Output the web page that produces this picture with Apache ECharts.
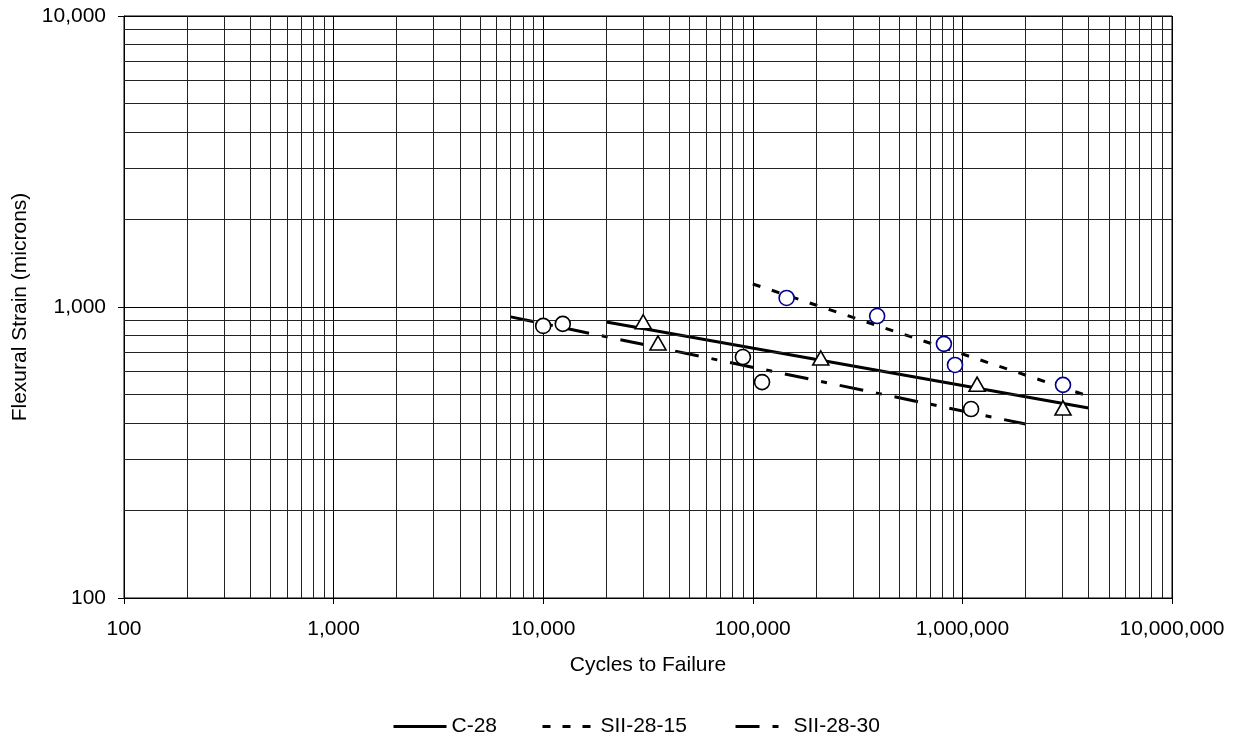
<!DOCTYPE html>
<html>
<head>
<meta charset="utf-8">
<title>Flexural Strain vs Cycles to Failure</title>
<script src="https://cdn.jsdelivr.net/npm/echarts@6/dist/echarts.min.js"></script>
<style>
  html, body { margin: 0; padding: 0; background: #fff; }
  #chart { width: 1239px; height: 740px; }
</style>
</head>
<body>
<div id="chart"></div>
<script>
// test results, [cycles to failure, strain]
const c28Points = [[30000, 890], [35300, 752], [211000, 668], [1175000, 543], [3020000, 450]];
const sii15Points = [[145000, 1074], [392000, 931], [816000, 747], [922000, 632], [3020000, 540]];
const sii30Points = [[10000, 861], [12400, 875], [89700, 673], [110700, 552], [1100000, 446]];

const c28Fit = [[20000, 888], [4000000, 450]];
const sii15Fit = [[100000, 1200], [3800000, 500]];
const sii30Fit = [[7000, 925], [2000000, 396]];

const seriesNames = ['C-28', 'SII-28-15', 'SII-28-30'];
const xDecades = [100, 1000, 10000, 100000, 1000000, 10000000];
const yDecades = [100, 1000, 10000];
const minorSteps = [2, 3, 4, 5, 6, 7, 8, 9];

const font = "'Liberation Sans', Arial, sans-serif";
const fmt = v => Math.round(v).toLocaleString('en-US');

// minor log grid lines (2..9 inside every decade)
const minorOf = decades => {
  const out = [];
  decades.slice(0, -1).forEach(d => minorSteps.forEach(m => out.push(m * d)));
  return out;
};
const gridLines = [
  ...minorOf(xDecades).map(v => ({ xAxis: v })),
  ...minorOf(yDecades).map(v => ({ yAxis: v }))
];

const fitLine = (name, data, dash, extra) => Object.assign({
  name,
  type: 'line',
  data,
  symbol: 'none',
  silent: true,
  z: 3,
  itemStyle: { color: '#000' },
  lineStyle: { color: '#000', width: 3, type: dash }
}, extra || {});

const markers = (name, data, symbol, size, stroke) => ({
  name,
  type: 'scatter',
  data,
  symbol,
  symbolSize: size,
  silent: true,
  z: 5,
  itemStyle: { color: '#fff', borderColor: stroke, borderWidth: 1.6, opacity: 1 }
});

const legendAt = (name, left) => ({
  data: [name],
  left,
  top: 716,
  padding: 0,
  itemGap: 0,
  itemWidth: 53,
  itemHeight: 14,
  selectedMode: false,
  itemStyle: { opacity: 0 },
  lineStyle: { width: 3 },
  textStyle: { fontSize: 21, color: '#000', fontFamily: font }
});

const axisCommon = {
  type: 'log',
  logBase: 10,
  nameLocation: 'middle',
  nameTextStyle: { fontSize: 21, color: '#000', fontFamily: font },
  axisLine: { show: true, lineStyle: { color: '#000', width: 1 } },
  axisTick: { show: true, inside: false, length: 6, lineStyle: { color: '#000' } },
  splitLine: { show: true, lineStyle: { color: '#000', width: 1 } },
  minorTick: { show: false },
  minorSplitLine: { show: false }
};

const chart = echarts.init(document.getElementById('chart'));
chart.setOption({
  animation: false,
  backgroundColor: '#fff',
  grid: {
    left: 124, right: 67, top: 16, bottom: 142,
    show: true, borderColor: '#000', borderWidth: 1,
    outerBoundsMode: 'none'
  },
  legend: [
    legendAt(seriesNames[0], 392),
    legendAt(seriesNames[1], 541),
    legendAt(seriesNames[2], 734)
  ],
  xAxis: Object.assign({}, axisCommon, {
    min: xDecades[0],
    max: xDecades[xDecades.length - 1],
    name: 'Cycles to Failure',
    nameGap: 57,
    axisLabel: { fontSize: 21, color: '#000', fontFamily: font, margin: 21, formatter: fmt }
  }),
  yAxis: Object.assign({}, axisCommon, {
    min: yDecades[0],
    max: yDecades[yDecades.length - 1],
    name: 'Flexural Strain (microns)',
    nameGap: 86,
    axisLabel: { fontSize: 21, color: '#000', fontFamily: font, margin: 18, formatter: fmt }
  }),
  series: [
    fitLine(seriesNames[0], c28Fit, 'solid', {
      markLine: {
        silent: true,
        symbol: ['none', 'none'],
        label: { show: false },
        lineStyle: { color: '#222', width: 1, type: 'solid' },
        data: gridLines
      }
    }),
    fitLine(seriesNames[1], sii15Fit, [8, 12]),
    fitLine(seriesNames[2], sii30Fit, [24, 13, 6, 13]),
    markers('C-28 data', c28Points, 'triangle', [16, 14], '#000'),
    markers('SII-28-15 data', sii15Points, 'circle', 15, '#00008b'),
    markers('SII-28-30 data', sii30Points, 'circle', 15, '#000')
  ]
});
</script>
</body>
</html>
